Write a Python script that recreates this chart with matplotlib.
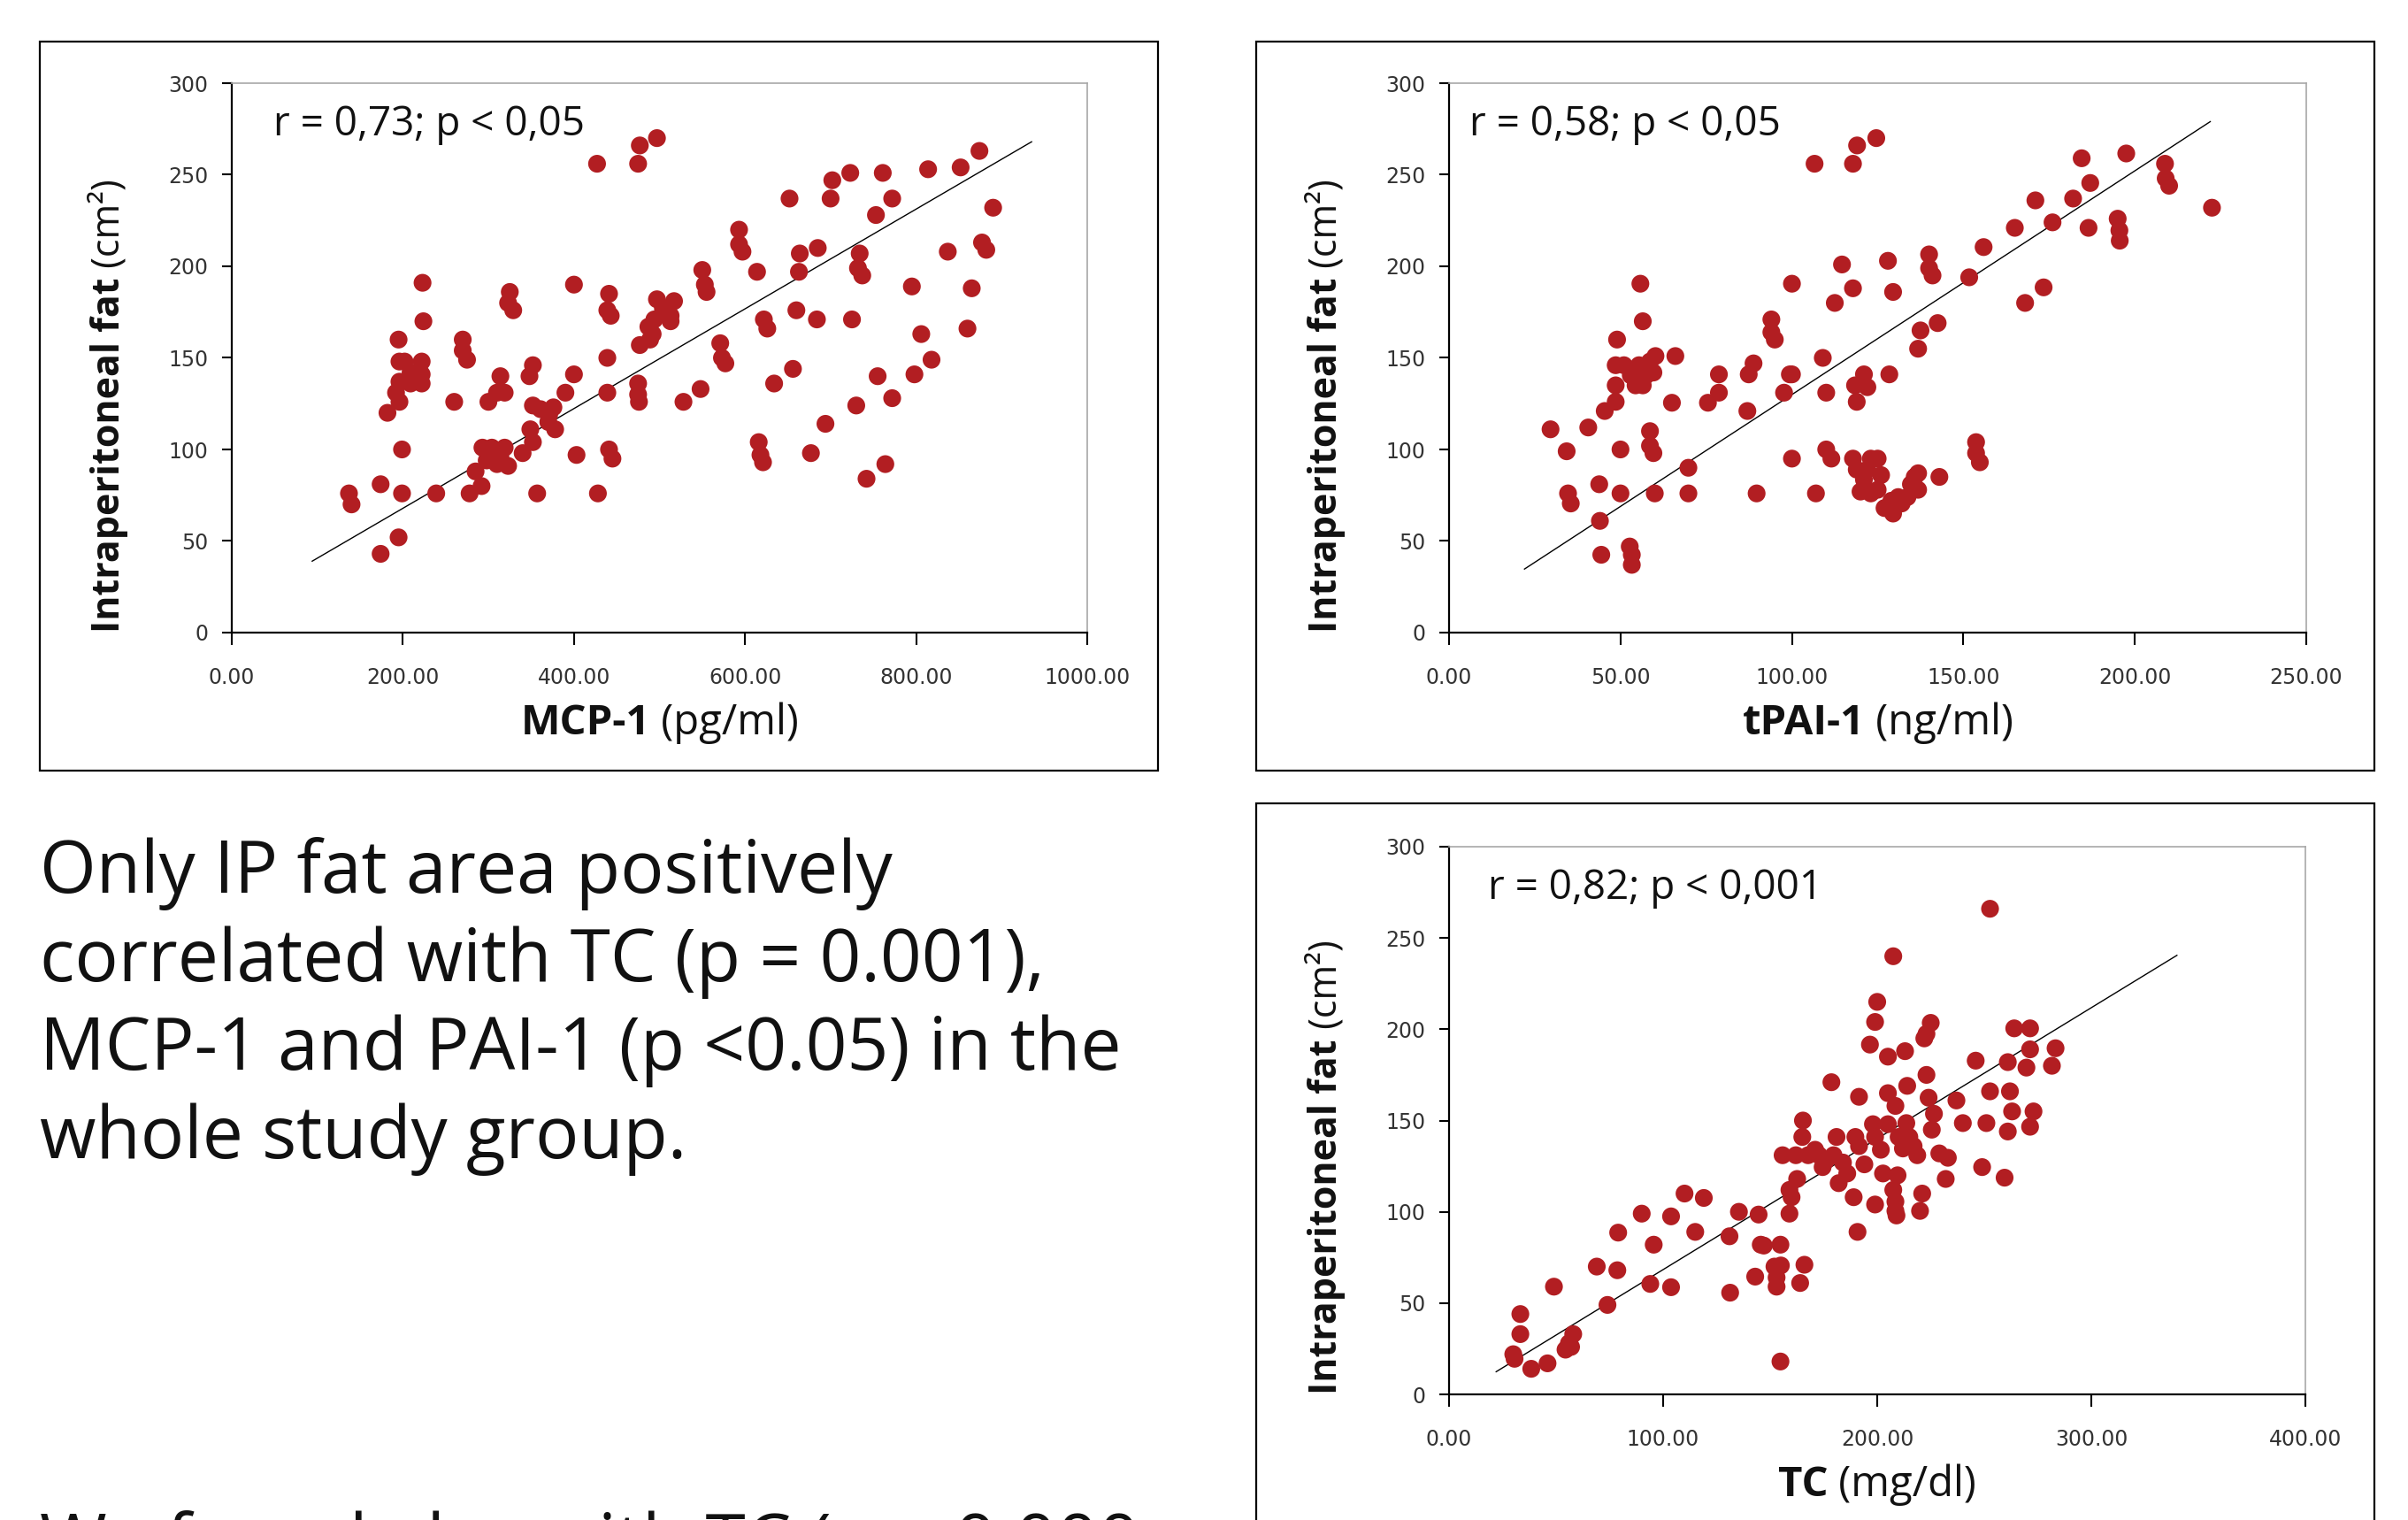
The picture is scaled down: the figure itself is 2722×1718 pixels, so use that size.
import matplotlib
matplotlib.use("Agg")
import matplotlib.pyplot as plt
from matplotlib.patches import Rectangle
from matplotlib.offsetbox import TextArea, HPacker, AnchoredOffsetbox

# ---- data ----
mcp1_x = [137, 140, 174, 174, 195, 199, 199, 195, 223, 224, 196, 202, 209, 222, 222, 222, 209, 192, 196, 182, 196,
          239, 260, 270, 270, 275, 278, 292, 285, 293, 300, 310, 314, 319, 298, 310, 319, 314, 323, 304,
          325, 323, 329, 340, 348, 352, 352, 349, 352, 357, 361, 371, 378, 370, 376, 390, 400, 400, 403,
          428, 427, 441, 439, 443, 439, 439, 441, 445, 475, 477, 497, 475, 475, 476, 477,
          487, 492, 494, 497, 504, 513, 517, 513, 489, 528, 548, 550, 553, 555, 571, 573, 577,
          593, 593, 597, 614, 616, 618, 621, 622, 626, 634, 652, 656, 660, 663, 664, 677, 684, 685,
          694, 700, 702, 723, 725, 730, 734, 732, 737, 742, 753, 755, 761, 764, 772, 772, 795, 798,
          806, 814, 818, 837, 852, 860, 865, 874, 877, 882, 890]
mcp1_y = [76, 70, 81, 43, 52, 76, 100, 160, 191, 170, 148, 148, 142, 148, 141, 136, 136, 131, 126, 120, 137,
          76, 126, 160, 154, 149, 76, 80, 88, 101, 126, 131, 140, 131, 94, 92, 101, 96, 91, 101,
          186, 180, 176, 98, 140, 146, 124, 111, 104, 76, 122, 119, 111, 115, 123, 131, 141, 190, 97,
          76, 256, 185, 176, 173, 150, 131, 100, 95, 256, 266, 270, 136, 130, 126, 157,
          167, 163, 171, 182, 177, 173, 181, 170, 160, 126, 133, 198, 190, 186, 158, 150, 147,
          220, 212, 208, 197, 104, 97, 93, 171, 166, 136, 237, 144, 176, 197, 207, 98, 171, 210,
          114, 237, 247, 251, 171, 124, 207, 199, 195, 84, 228, 140, 251, 92, 237, 128, 189, 141,
          163, 253, 149, 208, 254, 166, 188, 263, 213, 209, 232]
mcp1_fit = ([94, 935], [39, 268])

tpai_x = [29.6, 34.3, 34.7, 35.5, 40.6, 43.8, 44, 44.4, 45.4, 49, 48.6, 48.6, 48.6, 50, 50, 52.7, 53.3, 53.3,
          55.8, 56.5, 51, 53, 55.4, 56.5, 58.6, 59.6, 60.2, 57.5, 54.4, 58.6, 58.6, 59.6, 60, 66, 65,
          69.8, 69.8, 75.5, 78.7, 78.7, 87, 87.4, 88.8, 89.7, 94, 94, 95, 97.7, 99.4, 100, 100, 100,
          106.6, 107, 109, 110, 110, 111.5, 112.5, 114.6, 117.8, 117.8, 119, 124.6,
          118.4, 118.9, 121, 122, 117.8, 118.9, 121, 123, 125, 120, 123, 125, 122, 126,
          127, 129.5, 129, 132, 133.7, 131, 134.7, 135.8, 136.8, 136.8, 128.4, 129.5, 128,
          136.8, 137.5, 140, 140, 141, 142.5, 143, 151.7, 153.7, 153.7, 154.8, 155.9, 165, 168,
          171, 173.4, 176, 182, 184.5, 186.5, 187, 195, 195.5, 195.6, 197.5, 208.8, 209, 210, 222.5]
tpai_y = [111, 99, 76, 70.5, 112, 81, 61, 42.5, 121, 160, 146, 135, 126, 100, 76, 47, 42.5, 37,
          190.5, 170, 146, 140.5, 146, 135, 148, 142, 151, 140.5, 135, 110, 102, 98, 76, 151, 125.5,
          90, 76, 125.5, 141, 131, 121, 141, 147, 76, 171, 164, 160, 131, 141, 141, 190.5, 95,
          256, 76, 150, 131, 100, 95, 180, 201, 188, 256, 266, 270,
          135, 126, 141, 134, 95, 89, 83.5, 95, 95, 77, 76, 78, 89, 86,
          68, 65, 72, 70.5, 74, 74, 81, 85, 87, 78, 141, 186, 203,
          155, 165, 206.5, 199, 195, 169, 85, 194, 104, 98, 93, 210.5, 221, 180,
          236, 188.5, 224, 237, 259, 221, 245.5, 226, 219.6, 214, 261.6, 256, 248, 244, 232]
tpai_fit = ([22, 222], [34.7, 279])

tc_x = [30, 30.6, 33.3, 33.3, 38.4, 46, 49, 54.4, 57, 58, 56, 69, 74, 78.6, 79, 90, 94, 95.6, 103.7, 103.7,
        110, 115, 119, 131, 131.3, 135.4, 143, 144.6, 145.6, 147, 152, 153, 153, 154.8, 154.8, 155,
        164, 166, 159, 160, 159, 162.6, 165, 165.3, 155.8, 162, 167.7, 172.8, 176, 179.6, 174.5, 171,
        178.6, 181, 182, 186, 184, 189, 189.8, 190.8, 191.5, 191.5, 194, 196.6, 200, 199, 199, 198,
        199, 201.7, 202.7, 205, 205, 208.5, 205, 207.5, 208.5, 208.5, 209, 209.5, 207.5, 210, 212,
        213, 213.6, 214, 215, 217, 218.7, 220, 221, 222, 223, 223, 224, 225, 225.5, 226.5, 229,
        232, 233, 237, 240, 246, 249, 251, 252.7, 252.7, 259.5, 261, 262, 263, 261, 264, 269.7,
        271.4, 271.4, 271.4, 273, 281.6, 283.3]
tc_y = [22, 19.5, 44, 33, 14, 17, 59, 24.5, 26, 33, 28, 70, 49, 68, 88.6, 99, 60.5, 82, 97.5, 58.7,
        110, 89, 107.6, 86.6, 55.7, 100, 64.5, 98.5, 82, 81.5, 70, 64, 59, 18, 82, 70.6,
        61, 71, 99, 108, 112, 118, 141, 150, 131, 131, 131, 131, 128, 131, 124.5, 134,
        171, 141, 115.7, 121, 127, 108, 141, 89, 163, 136, 126, 191.6, 215, 204, 104, 148,
        141, 134, 121, 185, 165, 158, 148, 112, 105.6, 100.5, 98, 120, 240, 141, 134.7,
        188, 148.6, 169, 141, 136, 131, 100.5, 110, 195, 197.5, 175, 162.5, 203.5, 145, 153.7, 132,
        118, 129.6, 161, 148.6, 182.8, 124.5, 148.6, 266, 166, 118.7, 182, 166, 155, 144, 200.5, 179,
        189, 200.5, 146.6, 155, 180, 189.6]
tc_fit = ([22, 340], [12.4, 240.5])

W, H = 2722, 1718
fig = plt.figure(figsize=(W / 100, H / 100), dpi=100)
fig.patch.set_facecolor("white")

RED = "#b21e22"
TICK_COLOR = "#333333"
LABEL_FONT = ["Open Sans", "DejaVu Sans"]


def px_axes(left, right, top, bottom):
    return fig.add_axes([left / W, 1 - bottom / H, (right - left) / W, (bottom - top) / H])


def frame(left, top, right, bottom):
    fig.patches.append(Rectangle((left / W, 1 - bottom / H), (right - left) / W, (bottom - top) / H,
                                 transform=fig.transFigure, fill=False, ec="black", lw=1.6))


def panel(ax, x, y, fit, xmax, xstep, note, note_x, xbold, xnorm):
    ax.scatter(x, y, s=210, color=RED, marker="o", edgecolors="none", zorder=3)
    ax.plot(fit[0], fit[1], color="black", lw=1.0, zorder=2)
    ax.set_xlim(0, xmax)
    ax.set_ylim(0, 300)
    ax.set_xticks(list(range(0, xmax + 1, xstep)))
    ax.set_xticklabels([f"{v:.2f}" for v in range(0, xmax + 1, xstep)])
    ax.set_yticks(range(0, 301, 50))
    for s in ("top", "right"):
        ax.spines[s].set_color("#a8a8a8")
        ax.spines[s].set_linewidth(1.2)
    for s in ("left", "bottom"):
        ax.spines[s].set_color("black")
        ax.spines[s].set_linewidth(1.6)
    ax.tick_params(axis="x", direction="out", length=10, width=1.5, pad=18,
                   labelsize=17, labelcolor=TICK_COLOR)
    ax.tick_params(axis="y", direction="out", length=8, width=1.5, pad=11,
                   labelsize=17, labelcolor=TICK_COLOR)
    ax.text(note_x, 0.924, note, transform=ax.transAxes, ha="left", va="center",
            fontsize=33, family=LABEL_FONT, color="#111111")
    # x label: bold part + normal part
    box = HPacker(children=[TextArea(xbold, textprops=dict(fontsize=34, fontweight="bold",
                                                           family=LABEL_FONT, color="#111111")),
                            TextArea(" " + xnorm, textprops=dict(fontsize=34, family=LABEL_FONT,
                                                                 color="#111111"))],
                  align="baseline", pad=0, sep=0)
    ab = AnchoredOffsetbox(loc="center", child=box, frameon=False, pad=0, borderpad=0,
                           bbox_to_anchor=(0.5, -0.165), bbox_transform=ax.transAxes)
    ax.add_artist(ab)
    # y label
    t1 = ax.annotate("Intraperitoneal fat", xy=(-0.143, 0), xycoords="axes fraction",
                     rotation=90, ha="center", va="bottom", fontsize=31, fontweight="bold",
                     family=LABEL_FONT, color="#111111")
    ax.annotate(" (cm²)", xy=(0.5, 1), xycoords=t1, rotation=90, ha="center", va="bottom",
                fontsize=31, family=LABEL_FONT, color="#111111")


frame(45, 47, 1309, 871)
frame(1420, 47, 2684, 871)
frame(1420, 908, 2684, 1800)

ax1 = px_axes(262, 1229, 94, 715)
panel(ax1, mcp1_x, mcp1_y, mcp1_fit, 1000, 200, "r = 0,73; p < 0,05", 0.049, "MCP-1", "(pg/ml)")

ax2 = px_axes(1638, 2607, 94, 715)
panel(ax2, tpai_x, tpai_y, tpai_fit, 250, 50, "r = 0,58; p < 0,05", 0.024, "tPAI-1", "(ng/ml)")

ax3 = px_axes(1638, 2606, 957, 1576)
panel(ax3, tc_x, tc_y, tc_fit, 400, 100, "r = 0,82; p < 0,001", 0.045, "TC", "(mg/dl)")

body = ["Only IP fat area positively",
        "correlated with TC (p = 0.001),",
        "MCP-1 and PAI-1 (p <0.05) in the",
        "whole study group."]
for i, line in enumerate(body):
    fig.text(45 / W, 1 - (1009 + 100 * i) / H, line, ha="left", va="baseline",
             fontsize=59, family=LABEL_FONT, color="#111111")
# the next paragraph runs off the bottom edge, as in the original slide
fig.text(45 / W, 1 - 1770 / H, "We found also with TC (p = 0.000", ha="left", va="baseline",
         fontsize=59, family=LABEL_FONT, color="#111111")

fig.savefig("out.png", dpi=100, facecolor="white")
